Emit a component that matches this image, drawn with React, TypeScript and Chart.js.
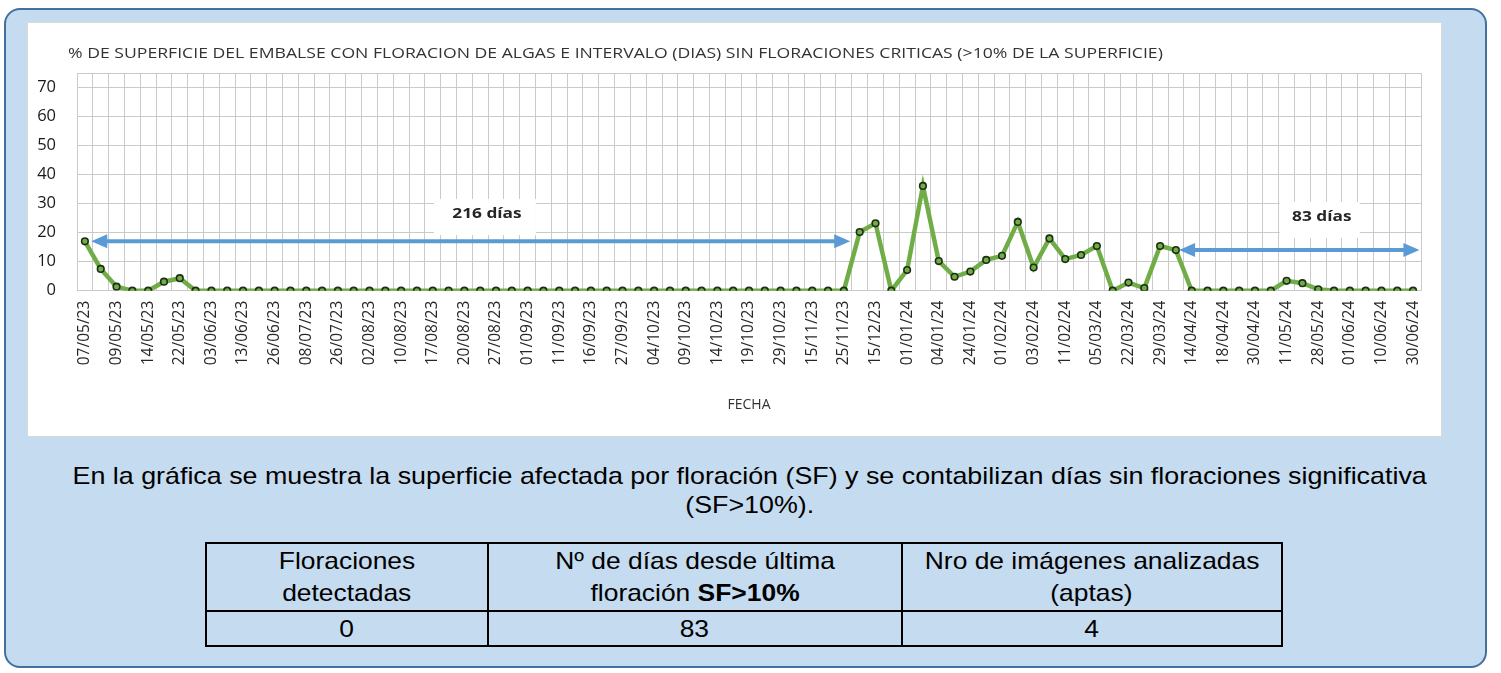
import React, { useEffect, useRef } from "react";
import { Chart, registerables } from "chart.js";

Chart.register(...registerables);

const TITLE =
  "% DE SUPERFICIE DEL EMBALSE CON FLORACION DE ALGAS E INTERVALO (DIAS) SIN FLORACIONES CRITICAS (>10% DE LA SUPERFICIE)";
const X_TITLE = "FECHA";

// labels shown on every second category
const tickLabels = [
  "07/05/23", "09/05/23", "14/05/23", "22/05/23", "03/06/23", "13/06/23", "26/06/23", "08/07/23",
  "26/07/23", "02/08/23", "10/08/23", "17/08/23", "20/08/23", "27/08/23", "01/09/23", "11/09/23",
  "16/09/23", "27/09/23", "04/10/23", "09/10/23", "14/10/23", "19/10/23", "29/10/23", "15/11/23",
  "25/11/23", "15/12/23", "01/01/24", "04/01/24", "24/01/24", "01/02/24", "03/02/24", "11/02/24",
  "05/03/24", "22/03/24", "29/03/24", "14/04/24", "18/04/24", "30/04/24", "11/05/24", "28/05/24",
  "01/06/24", "10/06/24", "30/06/24",
];

// % surface with algal bloom, one value per image
const superficie = [
  17, 7.5, 1.4, 0, 0, 3.1, 4.3,
  0, 0, 0, 0, 0, 0, 0, 0, 0, 0,
  0, 0, 0, 0, 0, 0, 0, 0, 0, 0,
  0, 0, 0, 0, 0, 0, 0, 0, 0, 0,
  0, 0, 0, 0, 0, 0, 0, 0, 0, 0,
  0, 0,
  20.2, 23.2, 0, 7.1, 36.1, 10.2, 4.8, 6.6, 10.6, 12.0, 23.7, 8.0, 18.0, 10.9, 12.3, 15.4,
  0, 2.8, 0.9, 15.4, 14.0,
  0, 0, 0, 0, 0, 0,
  3.4, 2.6, 0.5,
  0, 0, 0, 0, 0, 0,
];

// y axis ticks (75 is the top border, unlabeled)
const yTicks = [0, 10, 20, 30, 40, 50, 60, 70, 75];
const Y_MAX = 75;

// interval annotations (category index span, value level, label)
const intervalText = ["216 días", "83 días"];
const intervalFrom = [0.4, 69.2];
const intervalTo = [48.4, 84.4];
const intervalLevel = [17, 14];
const intervalLabelAt = [25.3, 78.1];
const intervalLabelLevel = [25.4, 24.4];
const intervalBoxWidth = [102, 80];

// build the 85 categories: a visible label on every even category
const categories: string[] = [];
for (let i = 0; i < superficie.length; i++) {
  categories.push(i % 2 === 0 ? tickLabels[i / 2] ?? "" : "");
}

const STRETCH = 1.15;
const GRID = "#CACACA";

const annotations = {
  id: "intervalAnnotations",
  beforeDatasetsDraw(chart: any) {
    const { ctx, scales } = chart;
    const x = scales.x;
    const y = scales.y;
    ctx.save();
    for (let i = 0; i < intervalText.length; i++) {
      const cx = x.getPixelForValue(intervalLabelAt[i]);
      const cy = y.getPixelForValue(intervalLabelLevel[i]);
      const w = intervalBoxWidth[i];
      const h = 36;
      ctx.fillStyle = "#ffffff";
      ctx.fillRect(cx - w / 2, cy - h / 2, w, h);
      ctx.save();
      ctx.translate(cx + 2, cy - 3);
      ctx.scale(STRETCH, 1);
      ctx.fillStyle = "#262626";
      ctx.font = 'bold 15px "Open Sans"';
      ctx.textAlign = "center";
      ctx.textBaseline = "middle";
      ctx.fillText(intervalText[i], 0, 0);
      ctx.restore();
    }
    ctx.restore();
  },
  afterDatasetsDraw(chart: any) {
    const { ctx, scales } = chart;
    const x = scales.x;
    const y = scales.y;
    ctx.save();
    ctx.strokeStyle = "#5B9BD5";
    ctx.fillStyle = "#5B9BD5";
    ctx.lineWidth = 4;
    const headLen = 16;
    const headHalf = 7;
    for (let i = 0; i < intervalText.length; i++) {
      const x1 = x.getPixelForValue(intervalFrom[i]);
      const x2 = x.getPixelForValue(intervalTo[i]);
      const yy = y.getPixelForValue(intervalLevel[i]);
      ctx.beginPath();
      ctx.moveTo(x1 + headLen - 2, yy);
      ctx.lineTo(x2 - headLen + 2, yy);
      ctx.stroke();
      ctx.beginPath();
      ctx.moveTo(x1, yy);
      ctx.lineTo(x1 + headLen, yy - headHalf);
      ctx.lineTo(x1 + headLen, yy + headHalf);
      ctx.closePath();
      ctx.fill();
      ctx.beginPath();
      ctx.moveTo(x2, yy);
      ctx.lineTo(x2 - headLen, yy - headHalf);
      ctx.lineTo(x2 - headLen, yy + headHalf);
      ctx.closePath();
      ctx.fill();
    }
    ctx.restore();
  },
  afterDraw(chart: any) {
    const { ctx } = chart;
    ctx.save();
    ctx.translate(41, 32);
    ctx.scale(1.175, 1);
    ctx.fillStyle = "#333333";
    ctx.font = '15px "Open Sans"';
    ctx.textAlign = "left";
    ctx.textBaseline = "middle";
    ctx.fillText(TITLE, 0, 0);
    ctx.restore();
  },
};

function LineChart() {
  const ref = useRef<HTMLCanvasElement | null>(null);
  useEffect(() => {
    if (!ref.current) return;
    const chart = new Chart(ref.current, {
      type: "line",
      data: {
        labels: categories,
        datasets: [
          {
            data: superficie,
            borderColor: "#70AD47",
            borderWidth: 4.5,
            tension: 0,
            pointRadius: 3.3,
            pointBorderWidth: 1.6,
            pointBorderColor: "#1e2e14",
            pointBackgroundColor: "#70AD47",
          },
        ],
      },
      plugins: [annotations],
      options: {
        animation: false,
        responsive: true,
        maintainAspectRatio: false,
        layout: { padding: { top: 51, left: 0, right: 21, bottom: 20 } },
        plugins: {
          legend: { display: false },
          tooltip: { enabled: false },
          title: { display: false },
        },
        scales: {
          x: {
            type: "category",
            offset: true,
            grid: { offset: true, color: GRID, drawTicks: false },
            border: { color: GRID },
            ticks: {
              autoSkip: false,
              maxRotation: 90,
              minRotation: 90,
              padding: 10,
              color: "#262626",
              font: { family: '"Open Sans"', size: 15.5 },
            },
            title: {
              display: true,
              text: X_TITLE,
              color: "#333333",
              font: { family: '"Open Sans"', size: 14 },
              padding: { top: 0, bottom: 4 },
            },
            afterFit(scale: any) {
              scale.height = 126.3;
            },
          },
          y: {
            min: 0,
            max: Y_MAX,
            grid: { color: GRID, drawTicks: false },
            border: { color: GRID },
            afterBuildTicks(scale: any) {
              scale.ticks = yTicks.map((v) => ({ value: v }));
            },
            ticks: {
              padding: 21,
              color: "#1a1a1a",
              font: { family: '"Open Sans"', size: 16.5 },
              callback: (v: any) => (v === Y_MAX ? "" : String(v)),
            },
            afterFit(scale: any) {
              scale.width = 50;
            },
          },
        },
      },
    });
    return () => chart.destroy();
  }, []);
  return (
    <div style={{ position: "absolute", left: 0, top: 0, width: 1415, height: 415 }}>
      <canvas ref={ref} />
    </div>
  );
}

const cell: React.CSSProperties = {
  border: "2px solid #000",
  textAlign: "center",
  verticalAlign: "middle",
  padding: 0,
};

const stretch: React.CSSProperties = {
  display: "inline-block",
  transform: "scaleX(1.1)",
  transformOrigin: "center",
  whiteSpace: "nowrap",
};

export default function App() {
  return (
    <div
      style={{
        position: "absolute",
        left: 0,
        top: 0,
        width: 1501,
        height: 673,
        overflow: "hidden",
        fontFamily: '"Liberation Sans", Arial, sans-serif',
      }}
    >
      <div
        style={{
          position: "absolute",
          left: 4,
          top: 8,
          width: 1483,
          height: 660,
          boxSizing: "border-box",
          border: "2px solid #41719C",
          borderRadius: 16,
          background: "#C5DBEF",
        }}
      />
      <div
        style={{
          position: "absolute",
          left: 27,
          top: 22,
          width: 1415,
          height: 415,
          background: "#ffffff",
          boxShadow: "inset 0 0 0 1px #D9D9D9",
        }}
      >
        <LineChart />
      </div>
      <div
        style={{
          position: "absolute",
          left: 40,
          top: 461,
          width: 1420,
          textAlign: "center",
          fontSize: 24,
          lineHeight: "29px",
          color: "#000",
        }}
      >
        <span style={{ ...stretch, transform: "scaleX(1.118)" }}>
          En la gráfica se muestra la superficie afectada por floración (SF) y se contabilizan días sin floraciones significativa
        </span>
        <br />
        <span style={{ ...stretch, transform: "scaleX(1.118)" }}>(SF&gt;10%).</span>
      </div>
      <table
        style={{
          position: "absolute",
          left: 205,
          top: 542,
          width: 1078,
          borderCollapse: "collapse",
          fontSize: 24,
          lineHeight: "32px",
          color: "#000",
        }}
      >
        <tbody>
          <tr style={{ height: 68 }}>
            <td style={{ ...cell, width: 283 }}>
              <span style={stretch}>Floraciones</span>
              <br />
              <span style={stretch}>detectadas</span>
            </td>
            <td style={{ ...cell, width: 415 }}>
              <span style={stretch}>Nº de días desde última</span>
              <br />
              <span style={stretch}>
                floración <b>SF&gt;10%</b>
              </span>
            </td>
            <td style={{ ...cell, width: 380 }}>
              <span style={stretch}>Nro de imágenes analizadas</span>
              <br />
              <span style={stretch}>(aptas)</span>
            </td>
          </tr>
          <tr style={{ height: 35 }}>
            <td style={cell}>
              <span style={stretch}>0</span>
            </td>
            <td style={cell}>
              <span style={stretch}>83</span>
            </td>
            <td style={cell}>
              <span style={stretch}>4</span>
            </td>
          </tr>
        </tbody>
      </table>
    </div>
  );
}
